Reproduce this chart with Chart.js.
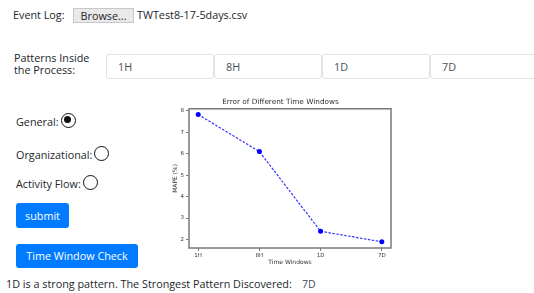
<!DOCTYPE html>
<html>
<head>
<meta charset="utf-8">
<title>Time Window Check</title>
<script src="https://cdn.jsdelivr.net/npm/chart.js@4.4.1/dist/chart.umd.min.js"></script>
<style>
    body {
        margin: 0;
        width: 534px;
        height: 293px;
        overflow: hidden;
        background: #fff;
        font-family: "Open Sans", "Noto Sans", sans-serif;
        font-size: 10.8px;
        color: #212529;
        position: relative;
    }
    .abs { position: absolute; white-space: nowrap; line-height: 16px; }
    .browse {
        position: absolute;
        left: 73px; top: 8px; width: 61px; height: 15px;
        background: #e9e9e9;
        border: 1px solid #c8c8c8;
        box-sizing: border-box;
        text-align: center;
        line-height: 13px;
    }
    .pattern {
        position: absolute;
        top: 54px; width: 108px; height: 25px;
        border: 1px solid #dfe3e7;
        border-radius: 3px;
        box-sizing: border-box;
        padding-left: 11px;
        line-height: 23px;
        color: #495057;
    }
    .radio {
        display: inline-block;
        position: relative;
        top: -3px;
        vertical-align: middle;
        margin-left: 2px;
        width: 15px; height: 15px;
        border: 1.6px solid #111;
        border-radius: 50%;
        box-sizing: border-box;
        background: #fff;
    }
    .radio.on::after {
        content: "";
        position: absolute;
        left: 2.2px; top: 2.2px;
        width: 7.4px; height: 7.4px;
        border-radius: 50%;
        background: #111;
    }
    .btn {
        position: absolute;
        background: #007bff;
        color: #fff;
        border-radius: 3px;
        text-align: center;
        box-sizing: border-box;
    }
    #chartBox { position: absolute; left: 170px; top: 95px; width: 230px; height: 175px; }
</style>
</head>
<body>
    <div class="abs" style="left:13px; top:7px;">Event Log:</div>
    <div class="browse">Browse...</div>
    <div class="abs" style="left:137px; top:7px;">TWTest8-17-5days.csv</div>

    <div class="abs" style="left:14px; top:52px; line-height:11.5px;">Patterns Inside<br>the Process:</div>
    <div class="pattern" id="p0" style="left:106px;"></div>
    <div class="pattern" id="p1" style="left:214px;"></div>
    <div class="pattern" id="p2" style="left:322px;"></div>
    <div class="pattern" id="p3" style="left:430px;"></div>

    <div class="abs" style="left:16px; top:114px;">General:<span class="radio on"></span></div>
    <div class="abs" style="left:16px; top:147px;">Organizational:<span class="radio"></span></div>
    <div class="abs" style="left:16px; top:176px;">Activity Flow:<span class="radio"></span></div>

    <div class="btn" style="left:16px; top:203px; width:53px; height:25px; line-height:25px;">submit</div>
    <div class="btn" style="left:16px; top:244px; width:122px; height:24px; line-height:24px;">Time Window Check</div>

    <div class="abs" style="left:6px; top:276px;">1D is a strong pattern. The Strongest Pattern Discovered:</div>
    <div class="abs" id="strongest" style="left:302px; top:276px; color:#3c4a5a; font-size:10.5px;"></div>

    <div id="chartBox"><canvas id="errChart" width="230" height="175"></canvas></div>

<script>
// datos del gráfico
const timeWindows = ['1H', '8H', '1D', '7D'];
const mapeValues = [7.83, 6.1, 2.38, 1.89];
const yTicks = [2, 3, 4, 5, 6, 7, 8];
const strongestPattern = '7D';

// rellenar los campos del formulario
timeWindows.forEach((w, i) => {
    document.getElementById('p' + i).textContent = w;
});
document.getElementById('strongest').textContent = strongestPattern;

// marco completo estilo matplotlib
const framePlugin = {
    id: 'frame',
    afterDraw(chart) {
        const a = chart.chartArea;
        const ctx = chart.ctx;
        ctx.save();
        ctx.strokeStyle = '#7a7a7a';
        ctx.lineWidth = 1.5;
        ctx.strokeRect(a.left, a.top, a.right - a.left, a.bottom - a.top);
        ctx.restore();
    }
};

const tickFont = { family: 'DejaVu Sans', size: 5.5 };

new Chart(document.getElementById('errChart').getContext('2d'), {
    type: 'line',
    data: {
        datasets: [{
            label: 'MAPE',
            data: timeWindows.map((w, i) => ({ x: i, y: mapeValues[i] })),
            borderColor: 'rgba(30, 30, 255, 0.9)',
            borderWidth: 1.2,
            borderDash: [2.5, 1.5],
            pointRadius: 2.5,
            pointBackgroundColor: '#0000ff',
            pointBorderColor: '#0000ff',
            pointBorderWidth: 0,
            fill: false,
            tension: 0
        }]
    },
    options: {
        responsive: false,
        animation: false,
        devicePixelRatio: 1,
        layout: { padding: { left: 0, right: 9, top: 0, bottom: 0 } },
        plugins: {
            legend: { display: false },
            tooltip: { enabled: false },
            title: {
                display: true,
                text: 'Error of Different Time Windows',
                color: '#333',
                font: { family: 'DejaVu Sans', size: 7.3, weight: 'normal' },
                padding: { top: 3, bottom: 2 }
            }
        },
        scales: {
            x: {
                type: 'linear',
                min: -0.15,
                max: 3.15,
                afterBuildTicks: (scale) => {
                    scale.ticks = timeWindows.map((w, i) => ({ value: i }));
                },
                afterFit: (scale) => { scale.height = 22; },
                ticks: {
                    callback: (v) => timeWindows[v],
                    font: tickFont,
                    color: '#333',
                    padding: 1,
                    maxRotation: 0
                },
                grid: { drawOnChartArea: false, tickLength: 3, tickColor: '#7a7a7a' },
                border: { display: false },
                title: {
                    display: true,
                    text: 'Time Windows',
                    color: '#333',
                    font: { family: 'DejaVu Sans', size: 6 },
                    padding: { top: 0, bottom: 4 }
                }
            },
            y: {
                type: 'linear',
                min: 1.6,
                max: 8.1,
                afterBuildTicks: (scale) => {
                    scale.ticks = yTicks.map(v => ({ value: v }));
                },
                afterFit: (scale) => { scale.width = 19; },
                ticks: {
                    font: tickFont,
                    color: '#333',
                    padding: 2
                },
                grid: { drawOnChartArea: false, tickLength: 3, tickColor: '#7a7a7a' },
                border: { display: false },
                title: {
                    display: true,
                    text: 'MAPE (%)',
                    color: '#333',
                    font: { family: 'DejaVu Sans', size: 6 },
                    padding: { top: 2, bottom: 0 }
                }
            }
        }
    },
    plugins: [framePlugin]
});
</script>
</body>
</html>
